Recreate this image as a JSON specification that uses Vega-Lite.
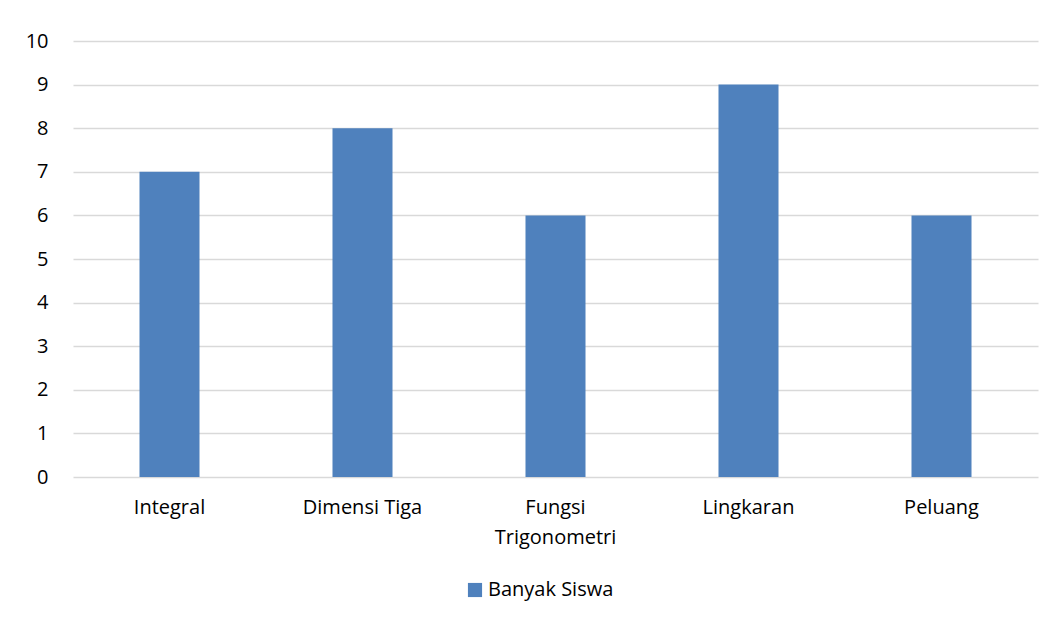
{
  "$schema": "https://vega.github.io/schema/vega-lite/v6.json",
  "width": 965,
  "height": 436,
  "padding": {"left": 73, "top": 41, "right": 19, "bottom": 146},
  "autosize": {"type": "none"},
  "background": "white",
  "config": {
    "view": {"stroke": null},
    "font": "Open Sans"
  },
  "data": {
    "values": [
      {"topik": "Integral", "jumlah": 7, "seri": "Banyak Siswa"},
      {"topik": "Dimensi Tiga", "jumlah": 8, "seri": "Banyak Siswa"},
      {"topik": "Fungsi Trigonometri", "jumlah": 6, "seri": "Banyak Siswa"},
      {"topik": "Lingkaran", "jumlah": 9, "seri": "Banyak Siswa"},
      {"topik": "Peluang", "jumlah": 6, "seri": "Banyak Siswa"}
    ]
  },
  "mark": {"type": "bar"},
  "encoding": {
    "x": {
      "field": "topik",
      "type": "nominal",
      "sort": null,
      "title": null,
      "scale": {"paddingInner": 0.689, "paddingOuter": 0.3445},
      "axis": {
        "domain": false,
        "ticks": false,
        "labelAngle": 0,
        "labelFont": "Open Sans",
        "labelFontSize": 20,
        "labelColor": "#000000",
        "labelPadding": 20,
        "labelLineHeight": 30,
        "labelBaseline": "top",
        "labelExpr": "datum.label == 'Fungsi Trigonometri' ? ['Fungsi', 'Trigonometri'] : datum.label"
      }
    },
    "y": {
      "field": "jumlah",
      "type": "quantitative",
      "title": null,
      "scale": {"domain": [0, 10], "nice": false},
      "axis": {
        "values": [0, 1, 2, 3, 4, 5, 6, 7, 8, 9, 10],
        "domain": false,
        "ticks": false,
        "grid": true,
        "gridColor": "#d9d9d9",
        "gridWidth": 1.5,
        "labelFont": "Open Sans",
        "labelFontSize": 20,
        "labelColor": "#000000",
        "labelPadding": 25
      }
    },
    "color": {
      "field": "seri",
      "type": "nominal",
      "scale": {"range": ["#4F81BD"]},
      "legend": {
        "title": null,
        "orient": "none",
        "legendX": 392,
        "legendY": 539,
        "direction": "horizontal",
        "symbolType": "square",
        "symbolSize": 200,
        "symbolStrokeWidth": 0,
        "labelFont": "Open Sans",
        "labelFontSize": 20,
        "labelColor": "#000000",
        "labelOffset": 3
      }
    }
  }
}
